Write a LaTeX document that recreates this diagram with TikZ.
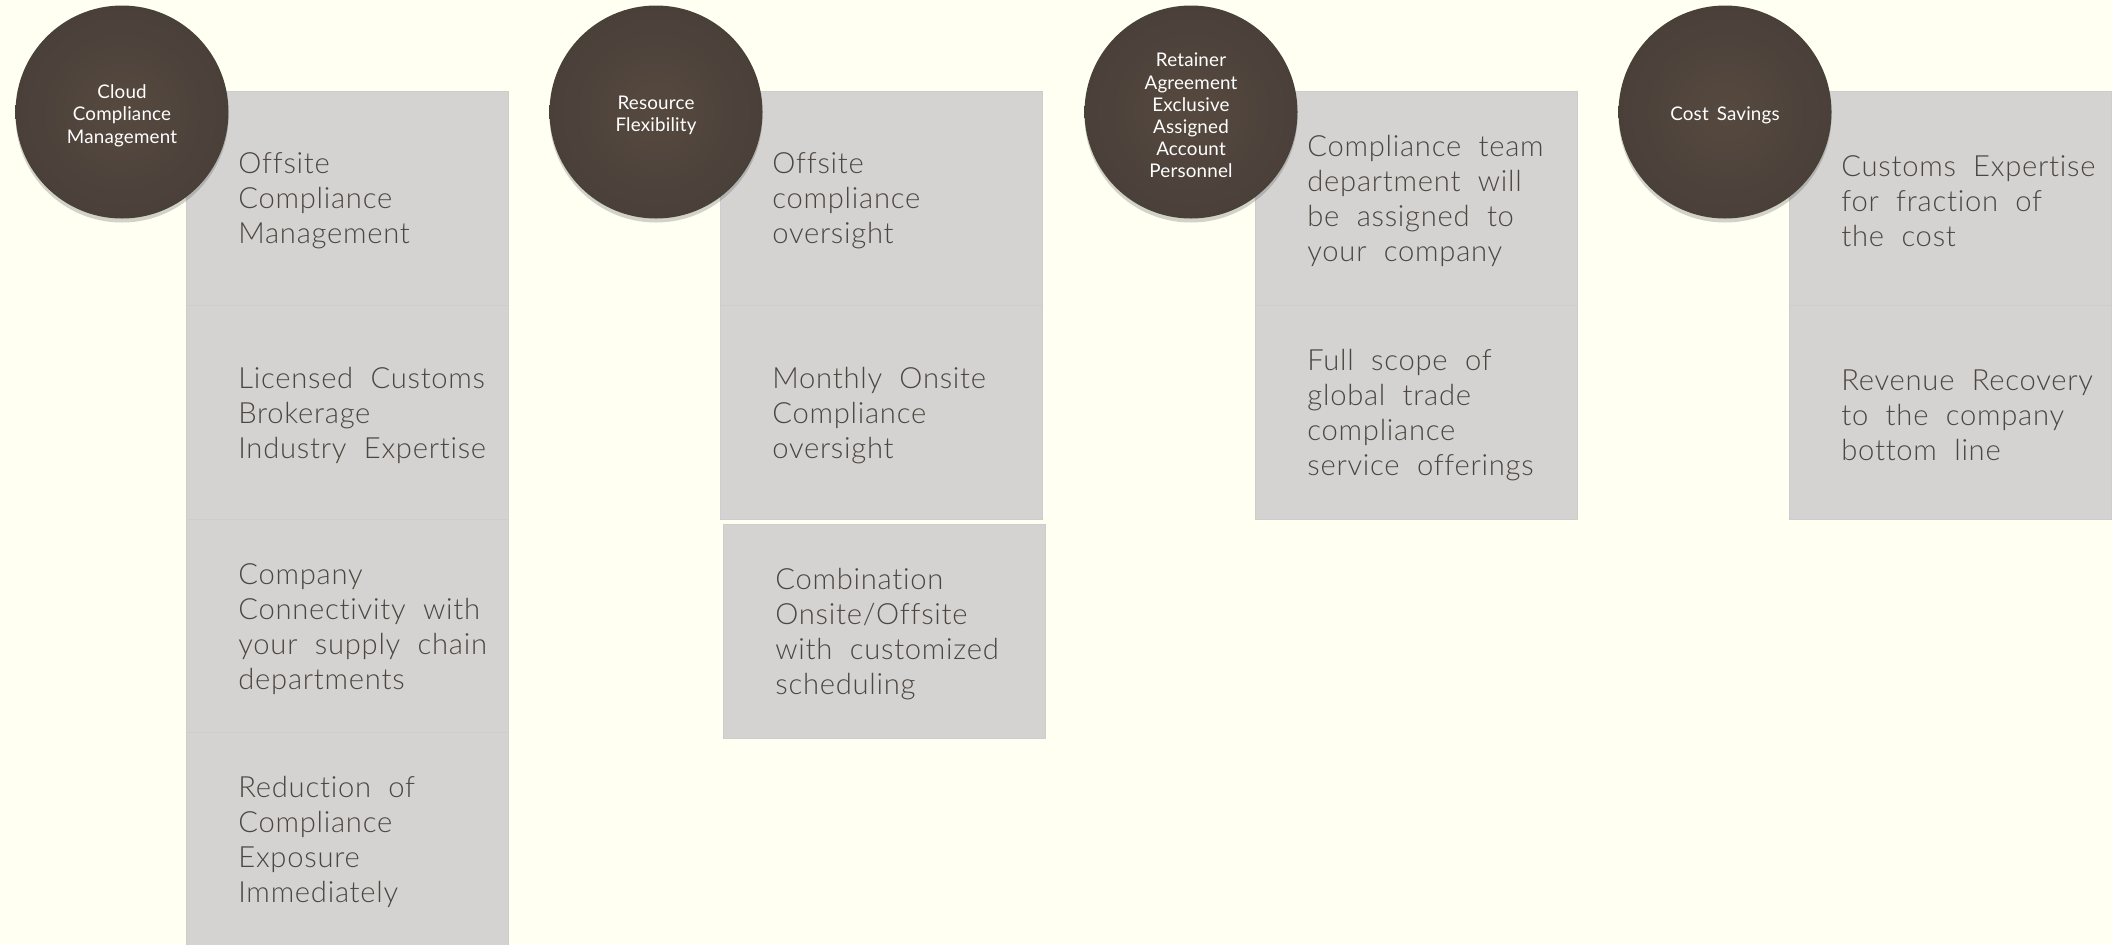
\documentclass[tikz,border=0pt]{standalone}
\usepackage{fontspec}
\setmainfont{Lato}
\newfontfamily\boxfont{Lato Light}[LetterSpace=2.5, WordSpace=2, Ligatures=NoCommon]
\newfontfamily\circfont{Lato}[LetterSpace=1, WordSpace=1.6, Ligatures=NoCommon]
\usetikzlibrary{shadows}
\definecolor{bg}{HTML}{FFFFF2}
\definecolor{boxfill}{HTML}{D4D3D1}
\definecolor{boxline}{HTML}{CECDCB}
\definecolor{circfill}{HTML}{56493F}
\definecolor{circedge}{HTML}{4A403A}
\definecolor{txtcol}{HTML}{4D4540}
\tikzset{
  boxst/.style={rectangle, fill=boxfill, draw=boxline, line width=0.4pt,
    minimum width=161pt, minimum height=107pt, anchor=north west, inner sep=0pt},
  txt/.style={anchor=west, align=left, inner sep=0pt, text=txtcol, yshift=-1.4pt,
    font=\boxfont\fontsize{14.6}{17.5}\selectfont},
  circ/.style={circle, minimum size=106.5pt, inner sep=0pt,
    inner color=circfill, outer color=circedge,
    drop shadow={shadow xshift=0pt, shadow yshift=-2pt, opacity=0.25, fill=black!70}},
  ctxt/.style={align=center, inner sep=0pt, text=white, yshift=-1.8pt,
    font=\circfont\fontsize{9.4}{11.1}\selectfont}
}
\begin{document}
\begin{tikzpicture}[x=0.5pt,y=-0.5pt]
\useasboundingbox[fill=bg] (0,0) rectangle (2112,944);
% column 1
\node[boxst] (b11) at (186,91) {};
\node[boxst] (b12) at (186,305) {};
\node[boxst] (b13) at (186,519) {};
\node[boxst] (b14) at (186,732) {};
% column 2
\node[boxst] (b21) at (720,91) {};
\node[boxst] (b22) at (720,305) {};
\node[boxst] (b23) at (723,524) {};
% column 3
\node[boxst] (b31) at (1255,91) {};
\node[boxst] (b32) at (1255,305) {};
% column 4
\node[boxst] (b41) at (1789,91) {};
\node[boxst] (b42) at (1789,305) {};
% texts
\node[txt] (t11) at ([xshift=26pt]b11.west) {Offsite\\Compliance\\Management};
\node[txt] (t12) at ([xshift=26pt]b12.west) {Licensed Customs\\Brokerage\\Industry Expertise};
\node[txt] (t13) at ([xshift=26pt]b13.west) {Company\\Connectivity with\\your supply chain\\departments};
\node[txt] (t14) at ([xshift=26pt]b14.west) {Reduction of\\Compliance\\Exposure\\Immediately};
\node[txt] (t21) at ([xshift=26pt]b21.west) {Offsite\\compliance\\oversight};
\node[txt] (t22) at ([xshift=26pt]b22.west) {Monthly Onsite\\Compliance\\oversight};
\node[txt] (t23) at ([xshift=26pt]b23.west) {Combination\\Onsite/Offsite\\with customized\\scheduling};
\node[txt] (t31) at ([xshift=26pt]b31.west) {Compliance team\\department will\\be assigned to\\your company};
\node[txt] (t32) at ([xshift=26pt]b32.west) {Full scope of\\global trade\\compliance\\service offerings};
\node[txt] (t41) at ([xshift=26pt]b41.west) {Customs Expertise\\for fraction of\\the cost};
\node[txt] (t42) at ([xshift=26pt]b42.west) {Revenue Recovery\\to the company\\bottom line};
% circles
\node[circ] (c1) at (122,112) {};
\node[circ] (c2) at (656,112) {};
\node[circ] (c3) at (1191,112) {};
\node[circ] (c4) at (1725,112) {};
\node[ctxt] (l1) at (c1) {Cloud\\Compliance\\Management};
\node[ctxt] (l2) at (c2) {Resource\\Flexibility};
\node[ctxt] (l3) at (c3) {Retainer\\Agreement\\Exclusive\\Assigned\\Account\\Personnel};
\node[ctxt] (l4) at (c4) {Cost Savings};
\end{tikzpicture}
\end{document}
